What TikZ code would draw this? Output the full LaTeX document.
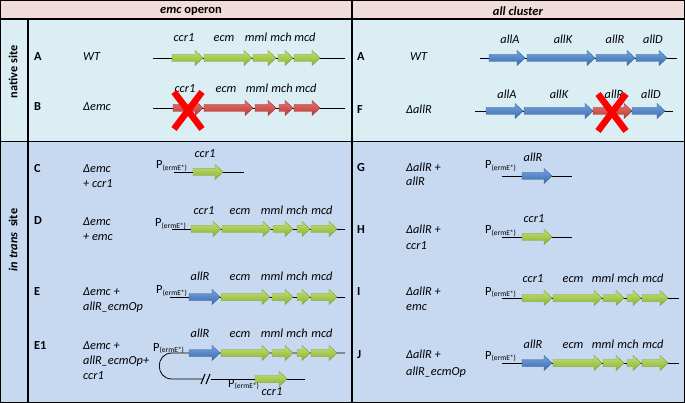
\documentclass[tikz,border=0pt]{standalone}
\usepackage{fontspec}
\setmainfont{Carlito}
\definecolor{hdrbg}{HTML}{F2DCDB}
\definecolor{natbg}{HTML}{DAEEF3}
\definecolor{trnbg}{HTML}{C6D9F1}
\definecolor{gtop}{HTML}{C4DF72}
\definecolor{gbot}{HTML}{8AB230}
\definecolor{gdraw}{HTML}{7A9C2E}
\definecolor{btop}{HTML}{74A3DD}
\definecolor{bbot}{HTML}{3A6CAE}
\definecolor{bdraw}{HTML}{3A659C}
\definecolor{rtop}{HTML}{E8736F}
\definecolor{rbot}{HTML}{B83A36}
\definecolor{rdraw}{HTML}{9E3330}
\definecolor{xred}{HTML}{FF0000}
\newcommand{\genearrow}[4]{%
  \shade[#4] ({#1},{#3-3.5}) -- ({#2-8},{#3-3.5}) -- ({#2-8},{#3-7.5}) -- ({#2},{#3})
    -- ({#2-8},{#3+7.5}) -- ({#2-8},{#3+3.5}) -- ({#1},{#3+3.5}) -- cycle;}
\newcommand{\promtext}{P{\fontsize{7.5}{8}\selectfont\raisebox{-1.5pt}{(ermE*)}}}
\begin{document}
\begin{tikzpicture}[x=1pt,y=-1pt,
  lbl/.style={font=\fontsize{12.3}{14}\selectfont\itshape, inner sep=0pt, text height=8pt, text depth=2.5pt},
  rowname/.style={lbl, anchor=west},
  rowid/.style={font=\fontsize{12.3}{14}\selectfont\bfseries, inner sep=0pt, anchor=west, text height=8pt, text depth=2.5pt},
  prom/.style={font=\fontsize{12.5}{14}\selectfont, inner sep=0pt, anchor=base west},
  side/.style={font=\fontsize{12.3}{14}\selectfont\bfseries, inner sep=0pt, rotate=90},
  head/.style={font=\fontsize{12.5}{14}\selectfont\bfseries, inner sep=0pt},
  dna/.style={line width=0.8pt, black},
  gridline/.style={line width=1.3pt, black},
  grn/.style={top color=gtop, bottom color=gbot, draw=gdraw, line width=0.4pt},
  blu/.style={top color=btop, bottom color=bbot, draw=bdraw, line width=0.4pt},
  rd/.style={top color=rtop, bottom color=rbot, draw=rdraw, line width=0.4pt},
  xmark/.style={line width=6.5pt, xred}
]
\useasboundingbox (0,0) rectangle (685,403);
% backgrounds
\fill[hdrbg] (0,0) rectangle (685,19);
\fill[natbg] (0,19) rectangle (685,141.5);
\fill[trnbg] (0,141.5) rectangle (685,403);
% grid
\draw[gridline] (0.7,0.7) rectangle (684.3,402.3);
\draw[gridline] (0,19) -- (685,19);
\draw[gridline] (0,141.5) -- (685,141.5);
\draw[gridline] (352,0) -- (352,403);
\draw[gridline] (28,19) -- (28,403);
% headers
\node[head] (h1) at (191,11) {\textit{emc} operon};
\node[head] (h2) at (518,11) {\textit{all cluster}};
\node[side] (s1) at (13,72) {native site};
\node[side] (s2) at (13,240) {\textit{in trans} \ site};

% ===== Left column =====
% Row A
\node[rowid] (idA) at (34,58) {A};
\node[rowname] (nA) at (83,58) {WT};
\draw[dna] (153,58) -- (345,58);
\genearrow{172}{203}{58}{grn}
\genearrow{204}{252}{58}{grn}
\genearrow{253}{276}{58}{grn}
\genearrow{278}{293}{58}{grn}
\genearrow{294}{320}{58}{grn}
\node[lbl] (lA1) at (184,39) {ccr1};
\node[lbl] (lA2) at (224,39) {ecm};
\node[lbl] (lA3) at (256,39) {mml};
\node[lbl] (lA4) at (281,39) {mch};
\node[lbl] (lA5) at (305,39) {mcd};
% Row B
\node[rowid] (idB) at (34,108) {B};
\node[rowname] (nB) at (83,108) {Δemc};
\draw[dna] (153,108) -- (345,108);
\genearrow{173}{203}{108}{rd}
\genearrow{204}{253}{108}{rd}
\genearrow{255}{276}{108}{rd}
\genearrow{279}{293}{108}{rd}
\genearrow{294}{320}{108}{rd}
\node[lbl] (lB1) at (185,90) {ccr1};
\node[lbl] (lB2) at (226,90) {ecm};
\node[lbl] (lB3) at (257,90) {mml};
\node[lbl] (lB4) at (282,90) {mch};
\node[lbl] (lB5) at (306,90) {mcd};
\draw[xmark] (174,92) -- (202,129);
\draw[xmark] (202,92) -- (174,129);
% Row C
\node[rowid] (idC) at (34,170) {C};
\node[rowname] (nC1) at (83,170) {Δemc};
\node[rowname] (nC2) at (83,185) {+ ccr1};
\draw[dna] (174,172) -- (244,172);
\genearrow{193}{223}{172}{grn}
\node[lbl] (lC1) at (205,155) {ccr1};
\node[prom] (pC) at (156,169) {\promtext};
% Row D
\node[rowid] (idD) at (34,222) {D};
\node[rowname] (nD1) at (83,223) {Δemc};
\node[rowname] (nD2) at (83,238) {+ emc};
\draw[dna] (172,229) -- (345,229);
\genearrow{191}{221}{229}{grn}
\genearrow{222}{271}{229}{grn}
\genearrow{273}{293}{229}{grn}
\genearrow{297}{310}{229}{grn}
\genearrow{311}{337}{229}{grn}
\node[lbl] (lD1) at (204,212) {ccr1};
\node[lbl] (lD2) at (240,212) {ecm};
\node[lbl] (lD3) at (272,212) {mml};
\node[lbl] (lD4) at (297,212) {mch};
\node[lbl] (lD5) at (322,212) {mcd};
\node[prom] (pD) at (155,227) {\promtext};
% Row E
\node[rowid] (idE) at (34,293) {E};
\node[rowname] (nE1) at (83,293) {Δemc +};
\node[rowname] (nE2) at (83,308) {allR\_ecmOp};
\draw[dna] (170,297) -- (345,297);
\genearrow{189}{220}{297}{blu}
\genearrow{221}{270}{297}{grn}
\genearrow{272}{293}{297}{grn}
\genearrow{297}{310}{297}{grn}
\genearrow{311}{337}{297}{grn}
\node[lbl] (lE1) at (200,278) {allR};
\node[lbl] (lE2) at (240,278) {ecm};
\node[lbl] (lE3) at (272,278) {mml};
\node[lbl] (lE4) at (297,278) {mch};
\node[lbl] (lE5) at (322,278) {mcd};
\node[prom] (pE) at (156,294) {\promtext};
% Row E1
\node[rowid] (idE1) at (34,347) {E1};
\node[rowname] (nF1) at (83,347) {Δemc +};
\node[rowname] (nF2) at (83,362) {allR\_ecmOp+};
\node[rowname] (nF3) at (83,377) {ccr1};
\draw[dna] (345,353) -- (172,353) .. controls (155,353) and (155,379) .. (172,379) -- (203,379);
\draw[dna] (211,379) -- (305,379);
\draw[line width=1.1pt] (201,384) -- (205,374);
\draw[line width=1.1pt] (206,384) -- (210,374);
\genearrow{189}{220}{353}{blu}
\genearrow{221}{270}{353}{grn}
\genearrow{272}{293}{353}{grn}
\genearrow{297}{310}{353}{grn}
\genearrow{311}{337}{353}{grn}
\genearrow{255}{287}{379}{grn}
\node[lbl] (lF1) at (200,335) {allR};
\node[lbl] (lF2) at (240,335) {ecm};
\node[lbl] (lF3) at (272,335) {mml};
\node[lbl] (lF4) at (297,335) {mch};
\node[lbl] (lF5) at (322,335) {mcd};
\node[lbl] (lF6) at (272,393) {ccr1};
\node[prom] (pF1) at (153,351) {\promtext};
\node[prom] (pF2) at (228,387) {\promtext};

% ===== Right column =====
% Row A
\node[rowid] (idRA) at (357,58) {A};
\node[rowname] (nRA) at (410,58) {WT};
\draw[dna] (480,58) -- (677,58);
\genearrow{489}{525}{58}{blu}
\genearrow{527}{595}{58}{blu}
\genearrow{596}{635}{58}{blu}
\genearrow{636}{667}{58}{blu}
\node[lbl] (lRA1) at (510,41) {allA};
\node[lbl] (lRA2) at (563,41) {allK};
\node[lbl] (lRA3) at (615,41) {allR};
\node[lbl] (lRA4) at (653,41) {allD};
% Row F
\node[rowid] (idRF) at (357,111) {F};
\node[rowname] (nRF) at (406,111) {ΔallR};
\draw[dna] (475,111) -- (673,111);
\genearrow{486}{523}{111}{blu}
\genearrow{524}{593}{111}{blu}
\genearrow{593}{632}{111}{rd}
\genearrow{632}{665}{111}{blu}
\node[lbl] (lRF1) at (507,96) {allA};
\node[lbl] (lRF2) at (559,96) {allK};
\node[lbl] (lRF3) at (614,96) {allR};
\node[lbl] (lRF4) at (651,96) {allD};
\draw[xmark] (598,94) -- (626,131);
\draw[xmark] (626,94) -- (598,131);
% Row G
\node[rowid] (idRG) at (357,169) {G};
\node[rowname] (nRG1) at (406,169) {ΔallR +};
\node[rowname] (nRG2) at (406,183) {allR};
\draw[dna] (502,176) -- (572,176);
\genearrow{522}{552}{176}{blu}
\node[lbl] (lRG1) at (533,159) {allR};
\node[prom] (pRG) at (485,169) {\promtext};
% Row H
\node[rowid] (idRH) at (357,231) {H};
\node[rowname] (nRH1) at (406,231) {ΔallR +};
\node[rowname] (nRH2) at (406,247) {ccr1};
\draw[dna] (502,237) -- (572,237);
\genearrow{522}{552}{237}{grn}
\node[lbl] (lRH1) at (534,220) {ccr1};
\node[prom] (pRH) at (485,234) {\promtext};
% Row I
\node[rowid] (idRI) at (357,293) {I};
\node[rowname] (nRI1) at (406,293) {ΔallR +};
\node[rowname] (nRI2) at (406,308) {emc};
\draw[dna] (502,298) -- (679,298);
\genearrow{522}{552}{298}{grn}
\genearrow{553}{602}{298}{grn}
\genearrow{603}{624}{298}{grn}
\genearrow{627}{641}{298}{grn}
\genearrow{642}{668}{298}{grn}
\node[lbl] (lRI1) at (533,280) {ccr1};
\node[lbl] (lRI2) at (573,280) {ecm};
\node[lbl] (lRI3) at (603,280) {mml};
\node[lbl] (lRI4) at (628,280) {mch};
\node[lbl] (lRI5) at (653,280) {mcd};
\node[prom] (pRI) at (485,295) {\promtext};
% Row J
\node[rowid] (idRJ) at (357,356) {J};
\node[rowname] (nRJ1) at (406,356) {ΔallR +};
\node[rowname] (nRJ2) at (406,373) {allR\_ecmOp};
\draw[dna] (502,363) -- (679,363);
\genearrow{522}{552}{363}{blu}
\genearrow{553}{602}{363}{grn}
\genearrow{603}{624}{363}{grn}
\genearrow{627}{641}{363}{grn}
\genearrow{642}{668}{363}{grn}
\node[lbl] (lRJ1) at (533,346) {allR};
\node[lbl] (lRJ2) at (573,346) {ecm};
\node[lbl] (lRJ3) at (603,346) {mml};
\node[lbl] (lRJ4) at (628,346) {mch};
\node[lbl] (lRJ5) at (653,346) {mcd};
\node[prom] (pRJ) at (485,359) {\promtext};
\end{tikzpicture}
\end{document}
